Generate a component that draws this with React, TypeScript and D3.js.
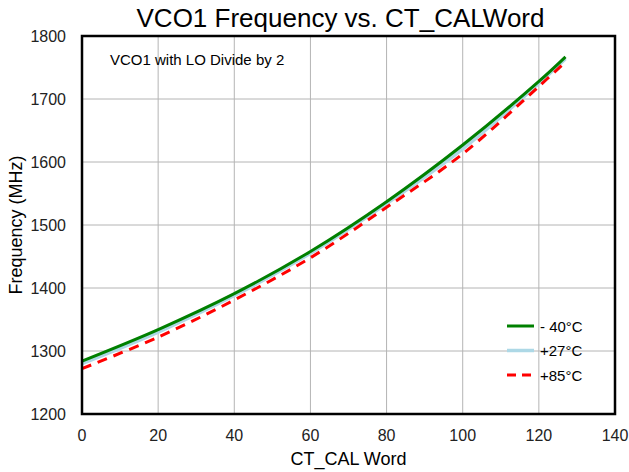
import React from 'react';
import * as d3 from 'd3';

// CT_CAL word sample points
const ctWords = [0, 20, 40, 60, 80, 100, 120, 127];
// frequency in MHz for each temperature
const freqMinus40 = [1284, 1334, 1391, 1458, 1537, 1627, 1728, 1767];
const freqPlus27 = [1280, 1330, 1388, 1455, 1534, 1621, 1725, 1764];
const freqPlus85 = [1272, 1322, 1381, 1448, 1528, 1613, 1720, 1759];

const xTicks = [0, 20, 40, 60, 80, 100, 120, 140];
const yTicks = [1200, 1300, 1400, 1500, 1600, 1700, 1800];

const seriesNames = ['- 40°C', '+27°C', '+85°C'];

const W = 629;
const H = 472;
const margin = { left: 82, right: 14, top: 36, bottom: 58 };
const font = 'Arial, "Liberation Sans", sans-serif';

const App = () => {
  const x = d3.scaleLinear().domain([0, 140]).range([margin.left, W - margin.right]);
  const y = d3.scaleLinear().domain([1200, 1800]).range([H - margin.bottom, margin.top]);

  const line = d3.line<number>()
    .x((_, i) => x(ctWords[i]))
    .y(d => y(d))
    .curve(d3.curveCatmullRom);

  const series = [
    { name: seriesNames[0], values: freqMinus40, color: '#008000', width: 3, dash: undefined },
    { name: seriesNames[1], values: freqPlus27, color: '#add8e6', width: 3.5, dash: undefined },
    { name: seriesNames[2], values: freqPlus85, color: '#ff0000', width: 3, dash: '10,7' },
  ];
  // draw order: light blue under, then green, then red dashed on top
  const drawOrder = [series[1], series[0], series[2]];

  return (
    <svg width={W} height={H} style={{ position: 'absolute', left: 0, top: 0 }}>
      <rect width={W} height={H} fill="#fff" />
      {/* grid */}
      {xTicks.slice(1, -1).map(t => (
        <line key={'gx' + t} x1={x(t)} x2={x(t)} y1={y(1200)} y2={y(1800)} stroke="#b4b4b4" strokeWidth={1} />
      ))}
      {yTicks.slice(1, -1).map(t => (
        <line key={'gy' + t} x1={x(0)} x2={x(140)} y1={y(t)} y2={y(t)} stroke="#b4b4b4" strokeWidth={1} />
      ))}
      {/* data lines */}
      {drawOrder.map(s => (
        <path key={s.name} d={line(s.values) || ''} fill="none" stroke={s.color}
          strokeWidth={s.width} strokeDasharray={s.dash} />
      ))}
      {/* plot border */}
      <rect x={x(0)} y={y(1800)} width={x(140) - x(0)} height={y(1200) - y(1800)}
        fill="none" stroke="#000" strokeWidth={2.5} />
      {/* tick labels */}
      {xTicks.map(t => (
        <text key={'tx' + t} x={x(t)} y={y(1200) + 27} textAnchor="middle" fontFamily={font} fontSize={16} fill="#222">{t}</text>
      ))}
      {yTicks.map(t => (
        <text key={'ty' + t} x={x(0) - 16} y={y(t) + 6} textAnchor="end" fontFamily={font} fontSize={16} fill="#222">{t}</text>
      ))}
      {/* titles */}
      <text x={(x(0) + x(140)) / 2 - 8} y={27} textAnchor="middle" fontFamily={font} fontSize={26} fill="#000">VCO1 Frequency vs. CT_CALWord</text>
      <text x={(x(0) + x(140)) / 2} y={465} textAnchor="middle" fontFamily={font} fontSize={18} fill="#000">CT_CAL Word</text>
      <text transform={`translate(22,${(y(1200) + y(1800)) / 2}) rotate(-90)`} textAnchor="middle" fontFamily={font} fontSize={18} fill="#000">Frequency (MHz)</text>
      <text x={110} y={65} fontFamily={font} fontSize={15} fill="#000">VCO1 with LO Divide by 2</text>
      {/* legend */}
      {series.map((s, i) => (
        <g key={'lg' + s.name} transform={`translate(507,${326 + i * 24.5})`}>
          <line x1={0} x2={27} y1={0} y2={0} stroke={s.color} strokeWidth={s.width} strokeDasharray={s.dash ? '9,6' : undefined} />
          <text x={33} y={5.5} fontFamily={font} fontSize={15} fill="#000">{s.name}</text>
        </g>
      ))}
    </svg>
  );
};

export default App;
